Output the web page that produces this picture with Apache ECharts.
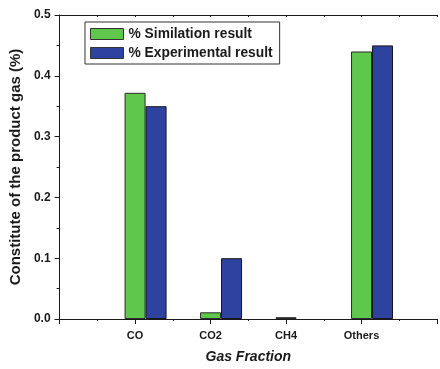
<!DOCTYPE html>
<html>
<head>
<meta charset="utf-8">
<script src="https://cdn.jsdelivr.net/npm/echarts@6/dist/echarts.min.js"></script>
<style>
  html, body { margin: 0; padding: 0; background: #fff; }
  #chart { width: 440px; height: 369px; }
</style>
</head>
<body>
<div id="chart"></div>
<script>
// Gas fractions (empty slots pad the axis on both ends)
const categories = ['', 'CO', 'CO2', 'CH4', 'Others', ''];
const simulation = [null, 0.372, 0.011, 0.003, 0.44, null];
const experimental = [null, 0.35, 0.1, 0, 0.45, null];
const yTicks = [0, 0.1, 0.2, 0.3, 0.4, 0.5];

const FONT = "'Liberation Sans', Arial, Helvetica, sans-serif";
const INK = '#1a1a1a';
const GREEN = '#5fc74b';
const BLUE = '#2e43a0';

// zero-height bars are drawn without an outline
const withOutline = values => values.map(v =>
  v === 0 ? { value: v, itemStyle: { borderWidth: 0 } } : v);

const chart = echarts.init(document.getElementById('chart'), null, { renderer: 'canvas' });

chart.setOption({
  animation: false,
  backgroundColor: '#fff',
  grid: { left: 57, top: 15, right: -1, bottom: 46, containLabel: false },
  legend: {
    data: ['% Similation result', '% Experimental result'],
    left: 85, top: 22,
    orient: 'vertical',
    padding: [5, 7, 4, 5],
    itemGap: 5,
    itemWidth: 33, itemHeight: 11,
    icon: 'rect',
    borderColor: '#333', borderWidth: 1,
    itemStyle: { borderColor: '#333', borderWidth: 1 },
    textStyle: { fontFamily: FONT, fontWeight: 'bold', fontSize: 13.8, color: INK }
  },
  xAxis: [
    {
      type: 'category',
      data: categories,
      boundaryGap: false,
      name: 'Gas Fraction',
      nameLocation: 'middle',
      nameGap: 31,
      nameTextStyle: { fontFamily: FONT, fontWeight: 'bold', fontStyle: 'italic', fontSize: 14, color: INK },
      axisLine: { show: true, lineStyle: { color: INK, width: 1 } },
      axisTick: { show: true, inside: false, length: 5, alignWithLabel: true, lineStyle: { color: INK } },
      axisLabel: { fontFamily: FONT, fontWeight: 'bold', fontSize: 11, color: INK, margin: 11, interval: 0 },
      splitLine: { show: false }
    },
    {
      // half-step ticks along the bottom edge
      type: 'value', position: 'bottom', min: 0, max: 5, interval: 0.5,
      axisLine: { show: false },
      axisTick: { show: true, inside: false, length: 2, lineStyle: { color: INK } },
      axisLabel: { show: false }, splitLine: { show: false }
    },
    {
      // frame along the top edge
      type: 'value', position: 'top', min: 0, max: 5, interval: 0.5,
      axisLine: { show: true, lineStyle: { color: INK, width: 1 } },
      axisTick: { show: true, inside: true, length: 2, lineStyle: { color: INK } },
      axisLabel: { show: false }, splitLine: { show: false }
    }
  ],
  yAxis: {
    type: 'value',
    min: yTicks[0], max: yTicks[yTicks.length - 1], interval: 0.1,
    name: 'Constitute of the product gas (%)',
    nameLocation: 'middle',
    nameGap: 36,
    nameTextStyle: { fontFamily: FONT, fontWeight: 'bold', fontSize: 15, color: INK },
    axisLine: { show: true, lineStyle: { color: INK, width: 1 } },
    axisTick: { show: true, inside: false, length: 5, lineStyle: { color: INK } },
    minorTick: { show: true, splitNumber: 2, length: 3, lineStyle: { color: INK } },
    axisLabel: {
      fontFamily: FONT, fontWeight: 'bold', fontSize: 12, color: INK, margin: 9,
      formatter: v => v.toFixed(1)
    },
    splitLine: { show: false }
  },
  series: [
    {
      // empty slot so each simulation bar sits on its tick
      name: 'spacer', type: 'bar', xAxisIndex: 0,
      data: categories.map(() => null),
      barWidth: 21, barGap: '0%', silent: true,
      itemStyle: { color: 'transparent' }
    },
    {
      name: '% Similation result', type: 'bar', xAxisIndex: 0,
      data: withOutline(simulation),
      barWidth: 21, barGap: '0%',
      itemStyle: { color: GREEN, borderColor: '#2a2a2a', borderWidth: 1 }
    },
    {
      name: '% Experimental result', type: 'bar', xAxisIndex: 0,
      data: withOutline(experimental),
      barWidth: 21, barGap: '0%',
      itemStyle: { color: BLUE, borderColor: '#161616', borderWidth: 1 }
    }
  ]
});
</script>
</body>
</html>
